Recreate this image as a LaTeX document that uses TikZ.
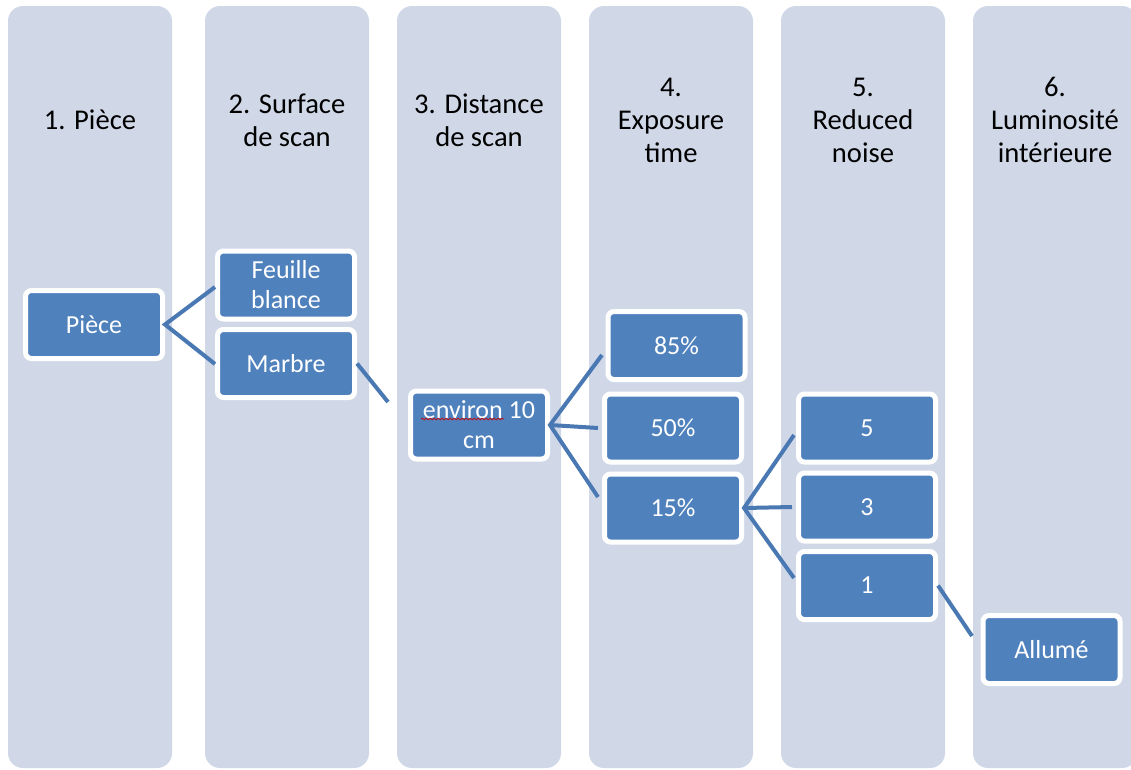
\documentclass[tikz,border=0pt]{standalone}
\usepackage{fontspec}
\setmainfont{Carlito}
\usetikzlibrary{decorations.pathmorphing}
\definecolor{colbg}{RGB}{208,216,232}
\definecolor{boxblue}{RGB}{79,129,189}
\definecolor{linkblue}{RGB}{74,120,178}
\tikzset{
  column/.style={fill=colbg, rounded corners=15pt},
  title/.style={align=center, font=\fontsize{28.6}{33}\selectfont, text=black, inner sep=0pt},
  box/.style={fill=boxblue, draw=white, line width=5pt, rounded corners=6pt,
    minimum width=137pt, minimum height=68pt, inner sep=2pt, align=center,
    text=white, font=\fontsize{26}{30}\selectfont},
  link/.style={draw=linkblue, line width=4pt}
}
\begin{document}
\begin{tikzpicture}[x=1pt,y=-1pt]
\clip (0,0) rectangle (1131,769);
\fill[white] (0,0) rectangle (1131,769);
% columns
\foreach \x in {8,205,397,589,781,973}{
  \fill[column] (\x,6) rectangle (\x+164,768);
}
% titles
\node[title] (t1) at (90,120) {1. Pièce};
\node[title] (t2) at (287,120) {2. Surface\\de scan};
\node[title] (t3) at (479,120) {3. Distance\\de scan};
\node[title] (t4) at (671,120) {4.\\Exposure\\time};
\node[title] (t5) at (863,120) {5.\\Reduced\\noise};
\node[title] (t6) at (1055,120) {6.\\Luminosité\\intérieure};
% boxes
\node[box] (piece) at (94,324.5) {Pièce};
\node[box] (feuille) at (286,285) {Feuille\\blance};
\node[box] (marbre) at (286,363.5) {Marbre};
\node[box] (env) at (479,425) {environ 10\\cm};
\node[box] (p85) at (676.5,345.5) {85\%};
\node[box] (p50) at (673,428) {50\%};
\node[box] (p15) at (673,508) {15\%};
\node[box] (n5) at (867,428) {5};
\node[box] (n3) at (867,507) {3};
\node[box] (n1) at (867,585.5) {1};
\node[box] (allume) at (1051.5,649.5) {Allumé};
% spell-check underline
\draw[red!80!black, line width=0.7pt, decorate, decoration={snake, amplitude=0.8pt, segment length=4pt}] (421,419) -- (504,419);
% free ends
\coordinate (e1) at (215,287);
\coordinate (e2) at (215,364);
\coordinate (e3) at (388,402);
\coordinate (e4) at (602,355);
\coordinate (e5) at (598,428);
\coordinate (e6) at (598,497);
\coordinate (e7) at (794,435);
\coordinate (e8) at (792,507);
\coordinate (e9) at (794,578);
\coordinate (e10) at (972,636);
% connectors
\draw[link] (e1) -- (piece.east) -- (e2);
\draw[link] (marbre.east) -- (e3);
\draw[link] (e4) -- (env.east) -- (e6);
\draw[link] (env.east) -- (e5);
\draw[link] (e7) -- (p15.east) -- (e9);
\draw[link] (p15.east) -- (e8);
\draw[link] (n1.east) -- (e10);
\end{tikzpicture}
\end{document}
